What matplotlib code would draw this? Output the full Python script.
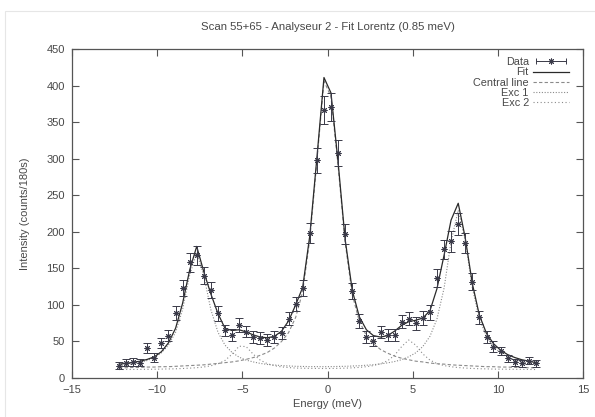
import matplotlib
matplotlib.use("Agg")
import matplotlib.pyplot as plt
from matplotlib.lines import Line2D
from matplotlib.legend_handler import HandlerTuple, HandlerLine2D
from matplotlib.patches import Rectangle

plt.rcParams['font.family'] = ['Liberation Sans', 'DejaVu Sans']

title = "Scan 55+65 - Analyseur 2 - Fit Lorentz (0.85 meV)"
xlabel = "Energy (meV)"
ylabel = "Intensity (counts/180s)"

energy = [-12.24, -11.83, -11.41, -11.00, -10.58, -10.17, -9.75, -9.34, -8.92, -8.51,
          -8.09, -7.68, -7.26, -6.85, -6.43, -6.02, -5.61, -5.19, -4.78, -4.36,
          -3.95, -3.53, -3.12, -2.70, -2.29, -1.87, -1.46, -1.04, -0.63, -0.21,
          0.20, 0.62, 1.03, 1.45, 1.86, 2.28, 2.69, 3.11, 3.52, 3.93,
          4.35, 4.76, 5.18, 5.59, 6.01, 6.42, 6.84, 7.25, 7.67, 8.08,
          8.50, 8.91, 9.33, 9.74, 10.16, 10.57, 10.99, 11.40, 11.82, 12.23]

counts = [17, 21, 22, 21, 41.5, 28, 48, 58, 89, 123,
          158, 168, 140, 120, 88.5, 65, 58.5, 72.5, 63.5, 56,
          55, 52, 56, 62, 81, 101, 123.5, 198, 298, 367,
          371, 308, 197, 119, 78, 56, 50.5, 62.5, 59, 59,
          77, 81, 75, 82, 90, 137, 176, 187, 211, 185,
          132, 83, 56.5, 43, 37, 27, 21.5, 20, 23.5, 20]

errors = [5, 5, 5, 5, 7, 6, 7, 8, 10, 11,
          13, 13, 12, 11, 10, 8, 8, 9, 8, 8,
          8, 8, 8, 8, 9, 10, 11, 14, 17, 19,
          19, 18, 14, 11, 9, 8, 7, 8, 8, 8,
          9, 9, 9, 9, 10, 12, 13, 14, 15, 14,
          12, 9, 8, 7, 6, 5, 5, 5, 5, 5]

fit = [19, 20, 21.5, 23, 25.5, 29, 36, 48, 68, 102,
       148, 180, 145, 115, 88, 68, 65, 66, 63, 59,
       56, 55, 57, 64, 78, 100, 124, 195, 300, 411,
       390, 295, 190, 120, 84, 66, 58, 56, 58, 64,
       72, 77, 79, 82, 92, 122, 168, 216, 239, 192,
       129, 86, 61, 47, 38, 32, 28, 25, 23, 21]

central = [14, 14, 14.5, 14.5, 15, 15, 15.5, 15.5, 16, 16.5,
           17, 17.5, 18, 19, 20, 21, 22, 23.5, 25.5, 28,
           31, 35, 41, 50, 62, 83, 118, 190, 295, 406,
           385, 290, 186, 114, 78, 58, 47, 39, 34, 30,
           27, 25, 23, 22, 20.5, 19.5, 19, 18, 17.5, 17,
           16.5, 16, 15.5, 15.5, 15, 15, 14.5, 14.5, 14, 14]

exc1 = [17, 18, 19.5, 21, 24, 28, 34.5, 45, 62.5, 93.5,
        141, 171.5, 140, 93.5, 62.5, 45, 35, 28.5, 24.5, 22,
        20, 18.5, 17.8, 17, 16.5, 16, 15.8, 15.6, 15.6, 15.5,
        15.6, 15.8, 16, 16.4, 16.8, 17.5, 18.2, 19.3, 20.7, 22.5,
        25, 29, 34.5, 43, 57, 80.5, 123, 186.5, 229.5, 188,
        123, 81, 56.7, 43, 34, 28.6, 24.7, 22, 20, 18.6]

exc2 = [11.6, 11.7, 11.7, 11.8, 11.9, 12, 12.2, 12.4, 12.6, 13,
        13.5, 14.1, 15.1, 16.7, 19.4, 24, 32.5, 43.5, 43, 32.5,
        24.5, 19.5, 16.8, 15.2, 14.3, 13.6, 13.4, 13.2, 13.1, 13,
        13.1, 13.2, 13.5, 13.9, 14.5, 15.5, 17, 19.5, 23.5, 31,
        43, 52, 45, 33, 24.5, 19.8, 17, 15.4, 14.3, 13.6,
        13.1, 12.7, 12.5, 12.2, 12.1, 12, 11.9, 11.8, 11.7, 11.6]

xticks = [-15, -10, -5, 0, 5, 10, 15]
yticks = [0, 50, 100, 150, 200, 250, 300, 350, 400, 450]

axis_col = '#555555'
text_col = '#484848'
data_col = '#3a3a48'
fit_col = '#2a2a2a'
comp_col = '#8a8a8a'

fig = plt.figure(figsize=(5.95, 4.17), dpi=100)
fig.patches.append(Rectangle((0.009, -0.05), 1.1, 1.024, transform=fig.transFigure,
                             fill=False, edgecolor='#e6e6e6', lw=0.8))
ax = fig.add_axes([0.121, 0.0935, 0.859, 0.789])

ax.plot(energy, fit, color=fit_col, lw=0.9, zorder=3)
ax.plot(energy, central, color=comp_col, lw=0.8, dashes=(3, 2), zorder=2)
ax.plot(energy, exc1, color=comp_col, lw=0.8, dashes=(1, 1.5), zorder=2)
ax.plot(energy, exc2, color=comp_col, lw=0.8, dashes=(1, 2.2), zorder=2)
ax.errorbar(energy, counts, yerr=errors, fmt='none', ecolor=data_col,
            elinewidth=0.7, capsize=2.6, capthick=0.7, zorder=4)
ax.plot(energy, counts, ls='none', marker=(8, 2, 0), ms=4.2, mew=0.7,
        color=data_col, zorder=5)

ax.set_xlim(-15, 15)
ax.set_ylim(0, 450)
ax.set_xticks(xticks)
ax.set_yticks(yticks)
ax.tick_params(direction='in', top=True, right=True, length=5, width=0.8,
               color=axis_col, labelcolor=text_col, labelsize=8, pad=5)
for s in ax.spines.values():
    s.set_color(axis_col)
    s.set_linewidth(0.9)

ax.set_title(title, fontsize=8.2, color=text_col, pad=14)
ax.set_xlabel(xlabel, fontsize=8, color=text_col, labelpad=3)
ax.set_ylabel(ylabel, fontsize=8, color=text_col, labelpad=12)

# legend proxies
h_bar = Line2D([], [], color=data_col, lw=0.7, marker='|', ms=5, mew=0.7)
h_star = Line2D([], [], ls='none', marker=(8, 2, 0), ms=4.2, mew=0.7, color=data_col)
h_fit = Line2D([], [], color=fit_col, lw=0.9)
h_c = Line2D([], [], color=comp_col, lw=0.8, dashes=(3, 2))
h_e1 = Line2D([], [], color=comp_col, lw=0.8, dashes=(1, 1.5))
h_e2 = Line2D([], [], color=comp_col, lw=0.8, dashes=(1, 2.2))
leg = ax.legend([(h_bar, h_star), h_fit, h_c, h_e1, h_e2],
                ['Data', 'Fit', 'Central line', 'Exc 1', 'Exc 2'],
                handler_map={tuple: HandlerTuple(ndivide=1),
                             h_bar: HandlerLine2D(numpoints=2)},
                markerfirst=False, frameon=False, loc='upper right',
                bbox_to_anchor=(0.985, 0.995), fontsize=7.8, handlelength=3.3,
                handletextpad=0.4, labelspacing=0.02, borderaxespad=0.2)
for t in leg.get_texts():
    t.set_color(text_col)

fig.savefig('out.png', dpi=100)
